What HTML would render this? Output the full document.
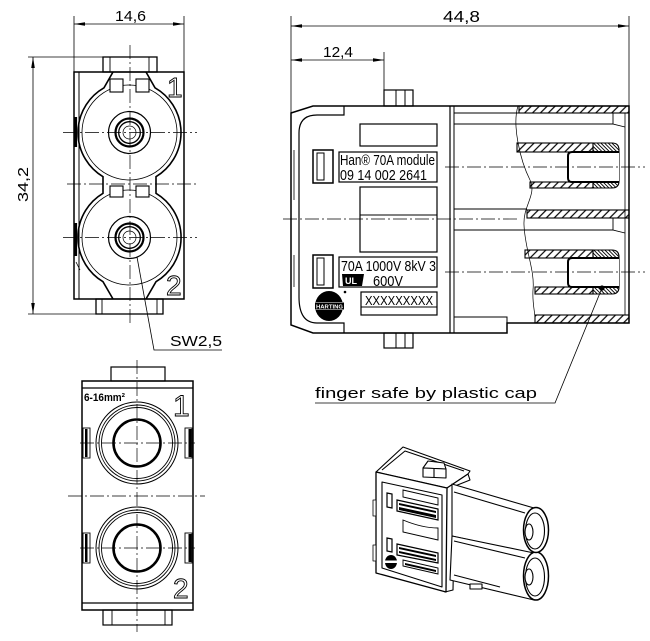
<!DOCTYPE html>
<html><head><meta charset="utf-8">
<style>
html,body{margin:0;padding:0;background:#fff;}
svg{display:block;}
text{font-family:"Liberation Sans",sans-serif;}
</style></head><body>
<svg width="650" height="641" viewBox="0 0 650 641" xmlns="http://www.w3.org/2000/svg">
<defs>
<pattern id="h1" patternUnits="userSpaceOnUse" width="5.6" height="5.6" patternTransform="rotate(45)"><line x1="2.8" y1="-1" x2="2.8" y2="7" stroke="#000" stroke-width="1.2"/></pattern>
<pattern id="h2" patternUnits="userSpaceOnUse" width="2.6" height="2.6" patternTransform="rotate(-45)"><line x1="1.3" y1="-1" x2="1.3" y2="4" stroke="#000" stroke-width="0.9"/></pattern>
</defs>
<rect width="650" height="641" fill="#fff"/>

<!-- ============ TOP-LEFT VIEW ============ -->
<g fill="none" stroke="#000" stroke-width="0.8">
  <line x1="74" y1="16" x2="74" y2="72"/>
  <line x1="184" y1="16" x2="184" y2="72"/>
  <line x1="74" y1="24" x2="184" y2="24"/>
  <line x1="28" y1="57" x2="103" y2="57"/>
  <line x1="28" y1="314" x2="96" y2="314"/>
  <line x1="33" y1="57" x2="33" y2="314"/>
</g>
<g fill="#000">
  <polygon points="74,24 85,22.2 85,25.8"/>
  <polygon points="184,24 173,22.2 173,25.8"/>
  <polygon points="33,57 31.2,68 34.8,68"/>
  <polygon points="33,314 31.2,303 34.8,303"/>
</g>
<text x="115" y="21" font-size="15" textLength="31" lengthAdjust="spacingAndGlyphs">14,6</text>
<text transform="translate(28,202) rotate(-90)" font-size="15" textLength="35" lengthAdjust="spacingAndGlyphs">34,2</text>

<g fill="none" stroke="#000">
  <rect x="74" y="72" width="110" height="227" stroke-width="1.5"/>
  <line x1="79" y1="72" x2="79" y2="299" stroke-width="1"/>
  <rect x="103" y="57" width="54" height="15" stroke-width="1.3"/>
  <line x1="110" y1="57" x2="110" y2="72" stroke-width="0.9"/>
  <line x1="149" y1="57" x2="149" y2="72" stroke-width="0.9"/>
  <rect x="96" y="299" width="67" height="15" stroke-width="1.3"/>
  <line x1="102" y1="299" x2="102" y2="314" stroke-width="0.9"/>
  <line x1="157" y1="299" x2="157" y2="314" stroke-width="0.9"/>
  <path d="M113,72 L104,87.8 A51.5,51.5 0 0 0 103,176.7 L103,193.3 A51.5,51.5 0 0 0 103,281.7 L113,299" stroke-width="1.6"/>
  <path d="M146,72 L155,87.8 A51.5,51.5 0 0 1 156,176.7 L156,193.3 A51.5,51.5 0 0 1 156,281.7 L146,299" stroke-width="1.6"/>
  <circle cx="129.5" cy="132.5" r="47.5" stroke-width="0.8"/>
  <circle cx="129.5" cy="237.5" r="47.5" stroke-width="0.8"/>
  <rect x="110" y="79" width="13" height="13" stroke-width="1.1" fill="#fff"/>
  <rect x="136" y="79" width="13" height="13" stroke-width="1.1" fill="#fff"/>
  <rect x="110" y="186" width="13" height="11" stroke-width="1.1" fill="#fff"/>
  <rect x="136" y="186" width="13" height="11" stroke-width="1.1" fill="#fff"/>
  <circle cx="129.5" cy="132.5" r="21" stroke-width="1.2"/>
  <circle cx="129.5" cy="237.5" r="21" stroke-width="1.2"/>
  <circle cx="129.5" cy="132.5" r="14" stroke-width="2.2"/>
  <circle cx="129.5" cy="237.5" r="14" stroke-width="2.2"/>
  <circle cx="129.5" cy="132.5" r="10.8" stroke-width="1.3"/>
  <circle cx="129.5" cy="237.5" r="10.8" stroke-width="1.3"/>
  <circle cx="129.5" cy="132.5" r="6.5" stroke-width="0.7"/>
  <circle cx="129.5" cy="237.5" r="6.5" stroke-width="0.7"/>
  <line x1="76" y1="262" x2="80" y2="270" stroke-width="0.8"/>
</g>
<rect x="74.5" y="117" width="2.6" height="30" fill="#000"/>
<rect x="74.5" y="223" width="2.6" height="33" fill="#000"/>
<g fill="none" stroke="#000" stroke-width="0.7" stroke-dasharray="14 3 2 3">
  <line x1="130" y1="45" x2="130" y2="325"/>
  <line x1="63" y1="132.5" x2="197" y2="132.5"/>
  <line x1="67" y1="184" x2="197" y2="184"/>
  <line x1="63" y1="237.5" x2="197" y2="237.5"/>
</g>
<text x="167" y="97" font-size="28" fill="#fff" stroke="#000" stroke-width="0.9">1</text>
<text x="166" y="295" font-size="28" fill="#fff" stroke="#000" stroke-width="0.9">2</text>
<!-- SW leader -->
<polyline points="137,257 154,350 222,350" fill="none" stroke="#000" stroke-width="0.8"/>
<text x="170" y="346" font-size="15" textLength="52" lengthAdjust="spacingAndGlyphs">SW2,5</text>

<!-- ============ RIGHT VIEW ============ -->
<g fill="none" stroke="#000" stroke-width="0.8">
  <line x1="291" y1="16" x2="291" y2="113"/>
  <line x1="629" y1="16" x2="629" y2="106"/>
  <line x1="291" y1="26" x2="629" y2="26"/>
  <line x1="384" y1="52" x2="384" y2="90"/>
  <line x1="291" y1="60" x2="384" y2="60"/>
</g>
<g fill="#000">
  <polygon points="291,26 302,24.2 302,27.8"/>
  <polygon points="629,26 618,24.2 618,27.8"/>
  <polygon points="291,60 302,58.2 302,61.8"/>
  <polygon points="384,60 373,58.2 373,61.8"/>
</g>
<text x="443" y="22" font-size="16" textLength="37" lengthAdjust="spacingAndGlyphs">44,8</text>
<text x="323" y="57" font-size="15" textLength="30" lengthAdjust="spacingAndGlyphs">12,4</text>

<!-- hatches -->
<g stroke="#000" stroke-width="1.1">
  <rect x="519" y="106" width="110" height="7" fill="url(#h1)"/>
  <rect x="527" y="210" width="102" height="8" fill="url(#h1)"/>
  <rect x="535" y="315" width="94" height="8" fill="url(#h1)"/>
  <rect x="517" y="143" width="76" height="9" fill="url(#h1)"/>
  <rect x="530" y="182" width="63" height="6" fill="url(#h1)"/>
  <rect x="525" y="250" width="68" height="8" fill="url(#h1)"/>
  <rect x="535" y="287" width="58" height="7" fill="url(#h1)"/>
  <path d="M593,143 L612,143 Q619,143 619,150 L619,181 Q619,188 612,188 L593,188 Z" fill="url(#h2)"/>
  <path d="M593,250 L612,250 Q619,250 619,257 L619,287 Q619,294 612,294 L593,294 Z" fill="url(#h2)"/>
</g>
<g fill="#fff" stroke="#000" stroke-width="2">
  <path d="M619,152 L572,152 Q568,152 568,156 L568,178 Q568,182 572,182 L619,182"/>
  <path d="M619,258 L572,258 Q568,258 568,262 L568,283 Q568,287 572,287 L619,287"/>
</g>
<g fill="none" stroke="#000">
  <path d="M291,113 L313,106 L629,106 L629,323 L507,323 L507,333 L313,333 L291,325 Z" stroke-width="1.5"/>
  <path d="M299,297 L299,133 Q299,115 317,115 L344,115 L344,106" stroke-width="1.2"/>
  <path d="M299,297 Q299,323 317,323 L344,323 L344,333" stroke-width="1.2"/>
  <line x1="450" y1="106" x2="450" y2="333" stroke-width="1.2"/>
  <line x1="454" y1="106" x2="454" y2="333" stroke-width="1"/>
  <line x1="625" y1="113" x2="625" y2="315" stroke-width="0.8"/>
  <line x1="454" y1="113" x2="519" y2="113" stroke-width="1"/>
  <line x1="454" y1="124" x2="613" y2="124" stroke-width="1"/>
  <polyline points="613,113 613,124 625,127" stroke-width="0.9"/>
  <line x1="454" y1="209" x2="527" y2="209" stroke-width="1"/>
  <line x1="454" y1="230" x2="613" y2="230" stroke-width="1"/>
  <polyline points="613,218 613,230 625,233" stroke-width="0.9"/>
  <rect x="454" y="317" width="53" height="16" stroke-width="1"/>
  <path d="M518,106 C512,125 520,160 530,180 C537,195 523,205 524,225 C525,250 535,270 533,290 C532,305 536,315 535,323" stroke-width="0.7"/>
  <!-- tabs -->
  <rect x="384" y="90" width="29" height="16" stroke-width="1.2"/>
  <line x1="396" y1="90" x2="396" y2="106"/>
  <line x1="405" y1="90" x2="405" y2="106"/>
  <rect x="384" y="333" width="29" height="15" stroke-width="1.2"/>
  <line x1="396" y1="333" x2="396" y2="348"/>
  <line x1="405" y1="333" x2="405" y2="348"/>
  <!-- left panel -->
  <rect x="360" y="124" width="77" height="22" stroke-width="1.2"/>
  <rect x="339" y="152" width="98" height="30" stroke-width="1.2"/>
  <rect x="313" y="150" width="20" height="33" stroke-width="1.5"/>
  <rect x="317" y="153" width="7" height="27" stroke-width="1"/>
  <rect x="360" y="187" width="77" height="65" stroke-width="1.2"/>
  <line x1="360" y1="215" x2="437" y2="215" stroke-width="0.9"/>
  <rect x="339" y="257" width="98" height="30" stroke-width="1.2"/>
  <rect x="313" y="255" width="20" height="33" stroke-width="1.5"/>
  <rect x="317" y="258" width="7" height="27" stroke-width="1"/>
  <rect x="361" y="292" width="76" height="23" stroke-width="1.2"/>
  <line x1="361" y1="307" x2="437" y2="307" stroke-width="1"/>
  <line x1="294" y1="150" x2="294" y2="200" stroke-width="0.8"/>
  <line x1="294" y1="255" x2="294" y2="287" stroke-width="0.8"/>
</g>
<g fill="none" stroke="#000" stroke-width="0.7" stroke-dasharray="14 3 2 3">
  <line x1="283" y1="219" x2="517" y2="219"/>
  <line x1="445" y1="167" x2="645" y2="167"/>
  <line x1="445" y1="272" x2="645" y2="272"/>
</g>
<text x="340" y="165" font-size="15" textLength="95" lengthAdjust="spacingAndGlyphs">Han® 70A module</text>
<text x="340" y="180" font-size="15" textLength="87" lengthAdjust="spacingAndGlyphs">09 14 002 2641</text>
<text x="341" y="271" font-size="15" textLength="95" lengthAdjust="spacingAndGlyphs">70A 1000V 8kV 3</text>
<path d="M342,274 L364,274 L362,286 L343,286 Z" fill="#000"/>
<text x="345" y="284" font-size="9" font-weight="bold" fill="#fff">UL</text>
<text x="373" y="286" font-size="15" textLength="30" lengthAdjust="spacingAndGlyphs">600V</text>
<text x="365" y="305" font-size="13" textLength="68" lengthAdjust="spacingAndGlyphs">XXXXXXXXX</text>
<!-- Harting logo -->
<ellipse cx="329" cy="306" rx="14" ry="15" fill="#000"/>
<rect x="313" y="302" width="33" height="8" fill="#fff"/>
<rect x="315" y="302.5" width="29" height="7" fill="#000"/>
<text x="316" y="308.5" font-size="5.5" font-weight="bold" fill="#fff" textLength="27" lengthAdjust="spacingAndGlyphs">HARTING</text>
<circle cx="345" cy="292" r="1.3" fill="#000"/>
<!-- finger safe leader -->
<circle cx="602" cy="288" r="2.6" fill="#000"/>
<polyline points="602,288 555,403 315,403" fill="none" stroke="#000" stroke-width="0.8"/>
<text x="315" y="398" font-size="15" textLength="222" lengthAdjust="spacingAndGlyphs">finger safe by plastic cap</text>

<!-- ============ BOTTOM-LEFT VIEW ============ -->
<g fill="none" stroke="#000">
  <rect x="82" y="381" width="111" height="229" stroke-width="1.5"/>
  <line x1="82" y1="388" x2="193" y2="388" stroke-width="1.2"/>
  <line x1="82" y1="603" x2="193" y2="603" stroke-width="1.2"/>
  <rect x="111" y="367" width="54" height="14" stroke-width="1.2"/>
  <rect x="103" y="610" width="69" height="15" stroke-width="1.2"/>
  <line x1="112" y1="610" x2="112" y2="625" stroke-width="0.9"/>
  <line x1="165" y1="610" x2="165" y2="625" stroke-width="0.9"/>
  <circle cx="137" cy="443" r="41" stroke-width="1"/>
  <circle cx="137" cy="443" r="38" stroke-width="0.9"/>
  <circle cx="137" cy="443" r="35.5" stroke-width="0.9"/>
  <circle cx="137" cy="443" r="23.5" stroke-width="2.6"/>
  <circle cx="137" cy="548" r="41" stroke-width="1"/>
  <circle cx="137" cy="548" r="38" stroke-width="0.9"/>
  <circle cx="137" cy="548" r="35.5" stroke-width="0.9"/>
  <circle cx="137" cy="548" r="23.5" stroke-width="2.6"/>
  <rect x="83" y="428" width="7" height="30" stroke-width="0.9"/>
  <rect x="83" y="533" width="7" height="30" stroke-width="0.9"/>
  <rect x="185" y="428" width="7" height="30" stroke-width="0.9"/>
  <rect x="185" y="533" width="7" height="30" stroke-width="0.9"/>
</g>
<rect x="85" y="429" width="2.5" height="28" fill="#000"/>
<rect x="85" y="534" width="2.5" height="28" fill="#000"/>
<rect x="188.5" y="429" width="3" height="28" fill="#000"/>
<rect x="188.5" y="534" width="3" height="28" fill="#000"/>
<g fill="none" stroke="#000" stroke-width="0.7" stroke-dasharray="14 3 2 3">
  <line x1="137" y1="360" x2="137" y2="632"/>
  <line x1="80" y1="443" x2="195" y2="443"/>
  <line x1="80" y1="548" x2="195" y2="548"/>
  <line x1="68" y1="496" x2="205" y2="496"/>
</g>
<text x="84" y="401" font-size="11" font-weight="bold" textLength="41" lengthAdjust="spacingAndGlyphs">6-16mm²</text>
<text x="173" y="416" font-size="30" fill="#fff" stroke="#000" stroke-width="0.9">1</text>
<text x="173" y="598" font-size="28" fill="#fff" stroke="#000" stroke-width="0.9">2</text>

<!-- ============ 3D VIEW ============ -->
<g fill="#fff" stroke="#000" stroke-width="1.1" stroke-linejoin="round">
  <!-- top face -->
  <path d="M376,472 L403,447 L470,471 L468,474 L447,488 Z"/>
  <path d="M382,470 L405,451 L464,471"/>
  <!-- right side strip of block -->
  <path d="M447,488 L468,474 L470,480 L455,486 L453,590 L445,592 Z"/>
  <!-- tab: small box -->
  <path d="M423,468 L428,461 L444,463 L446,469 Z"/>
  <path d="M423,468 L446,469 L446,478 L423,477 Z"/>
  <line x1="434" y1="468.5" x2="434" y2="477.5"/>
  <!-- tubes -->
  <path d="M452,484 L534,508 L534,554 L452,536 Z"/>
  <path d="M452,536 L534,553 L534,600 L450,580 Z"/>
  <line x1="454" y1="492" x2="525" y2="513" fill="none"/>
  <line x1="454" y1="541" x2="525" y2="558" fill="none"/>
  <line x1="454" y1="575" x2="500" y2="587" fill="none"/>
  <rect x="470" y="584" width="12" height="5"/>
  <ellipse cx="536" cy="576" rx="12.5" ry="24" stroke-width="1.5"/>
  <ellipse cx="535" cy="577" rx="9.5" ry="19"/>
  <ellipse cx="529" cy="577" rx="4" ry="8"/>
  <ellipse cx="536" cy="530" rx="12.5" ry="22.5" stroke-width="1.5"/>
  <ellipse cx="535" cy="531" rx="9.5" ry="18"/>
  <ellipse cx="529" cy="532" rx="4" ry="8"/>
  <!-- front face -->
  <path d="M376,472 L447,488 L446,592 L376,573 Z" stroke-width="1.3"/>
  <path d="M382,482 L442,495 L442,587 L382,568 Z"/>
  <rect x="373" y="500" width="3" height="16" stroke-width="0.8"/>
  <rect x="373" y="545" width="3" height="16" stroke-width="0.8"/>
</g>
<g fill="none" stroke="#000" stroke-width="0.9">
  <path d="M403,490 L438,498 L438,505 L403,497 Z"/>
  <path d="M387,493 L392,494 L392,508 L387,507 Z" stroke-width="1.2"/>
  <path d="M397,500 L438,509 L438,520 L397,511 Z" stroke-width="1.2"/>
  <path d="M403,520 C415,525 428,528 438,528 L438,540 L403,532 Z"/>
  <path d="M387,538 L392,539 L392,552 L387,551 Z" stroke-width="1.2"/>
  <path d="M397,544 L438,553 L438,563 L397,555 Z" stroke-width="1.2"/>
  <path d="M403,560 L438,568 L438,574 L403,566 Z"/>
</g>
<g fill="#000">
  <path d="M399,503 L436,511 L436,513 L399,505 Z"/>
  <path d="M399,507 L436,515 L436,518 L399,510 Z"/>
  <path d="M399,547 L436,555 L436,557 L399,549 Z"/>
  <path d="M399,551 L436,559 L436,561 L399,553 Z"/>
  <path d="M405,563 L436,570 L436,572 L405,565 Z"/>
  <ellipse cx="391" cy="562" rx="6" ry="7"/>
</g>
<rect x="385" y="560.5" width="12" height="2.5" fill="#fff"/>
</svg>
</body></html>
